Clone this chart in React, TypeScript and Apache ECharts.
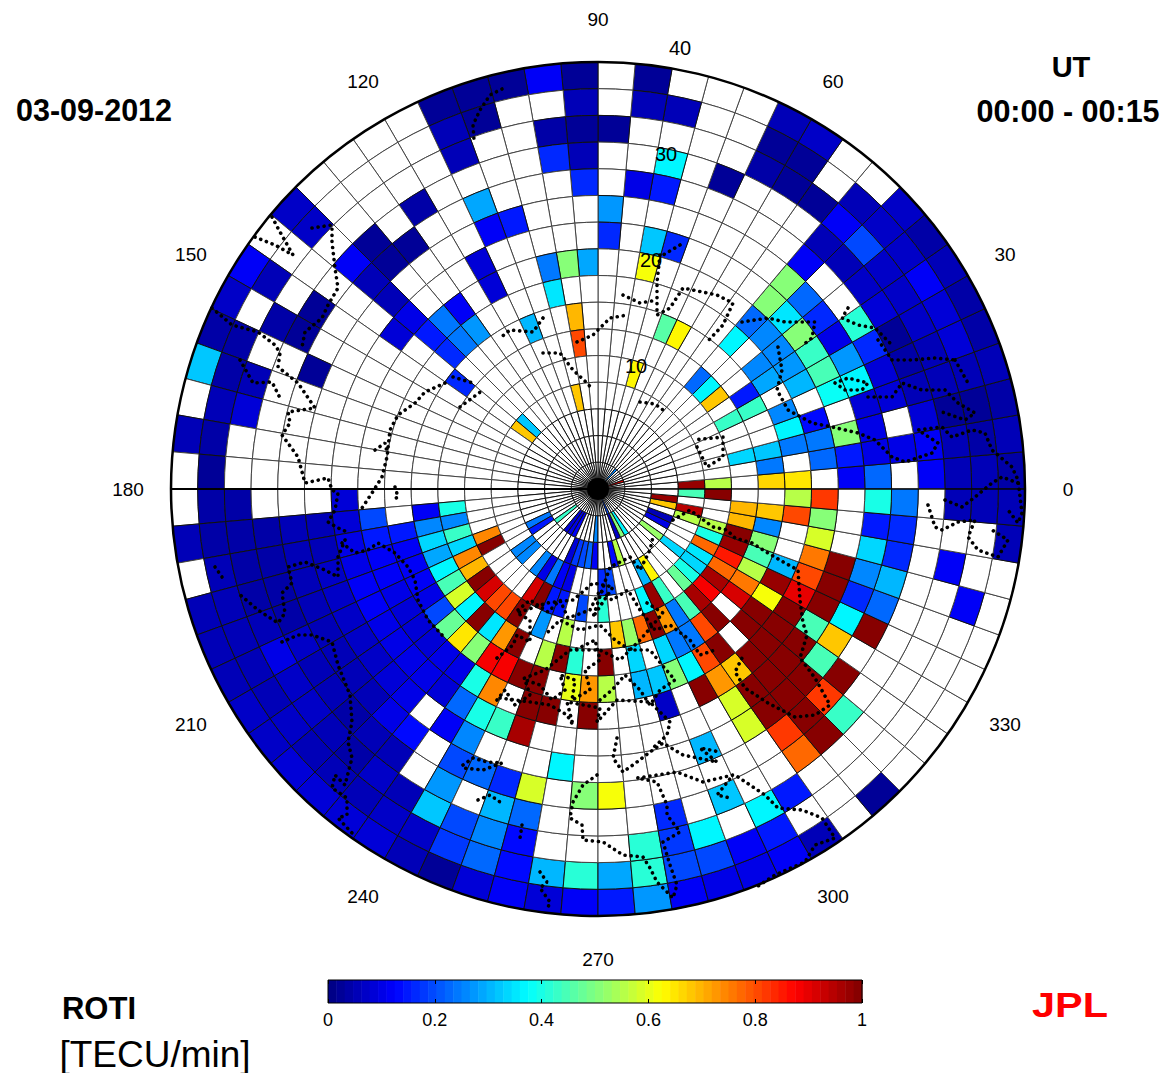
import React, { useEffect, useRef } from "react";
import * as echarts from "echarts";

// ROTI per cell: [longitude sector (5 deg each), value]; ring01 is the outermost (colatitude 37.5-40), ring16 the innermost.
const ring01 = [[0,.04],[1,.05],[2,.04],[3,.05],[4,.04],[5,.04],[6,.06],[7,.04],[8,.07],[11,.07],[12,.06],[16,.03],[18,.03],[19,.11],[20,.02],[21,.02],[22,.03],[27,.07],[29,.11],[30,.07],[31,.04],[32,.32],[34,.05],[37,.05],[39,.05],[40,.05],[41,.05],[42,.07],[43,.07],[44,.08],[45,.09],[46,.09],[47,.08],[48,.05],[49,.03],[50,.08],[51,.11],[52,.09],[53,.11],[54,.15],[55,.27],[56,.12],[57,.1],[58,.1],[59,.11],[60,.06],[62,.03],[70,.06],[71,.05]];
const ring02 = [[0,.05],[1,.04],[2,.03],[3,.05],[4,.08],[5,.08],[6,.11],[7,.07],[8,.07],[9,.05],[11,.02],[12,.03],[15,.05],[16,.05],[18,.06],[21,.03],[22,.06],[27,.07],[29,.06],[31,.04],[32,.04],[33,.05],[34,.04],[35,.03],[36,.04],[37,.04],[38,.05],[39,.05],[40,.05],[41,.06],[42,.06],[43,.07],[44,.06],[45,.05],[46,.06],[47,.07],[48,.07],[49,.18],[50,.22],[51,.14],[52,.3],[53,.41],[54,.29],[55,.41],[56,.2],[57,.2],[58,.11],[59,.15],[68,.12],[71,.05]];
const ring03 = [[0,.05],[1,.05],[2,.03],[3,.05],[4,.05],[5,.07],[6,.07],[7,.07],[8,.19],[9,.12],[10,.02],[11,.02],[12,.04],[17,.03],[18,.03],[19,.04],[22,.06],[30,.04],[32,.06],[33,.08],[36,.04],[37,.04],[38,.04],[39,.04],[40,.05],[41,.1],[42,.07],[43,.07],[44,.05],[45,.04],[46,.07],[47,.05],[48,.32],[49,.2],[50,.26],[51,.14],[55,.41],[56,.18],[57,.37],[59,.37],[60,.15],[69,.12],[71,.05]];
const ring04 = [[0,.11],[1,.12],[2,.08],[3,.06],[4,.04],[5,.02],[6,.08],[7,.07],[8,.06],[9,.06],[13,.02],[15,.37],[18,.06],[19,.17],[24,.04],[26,.02],[27,.11],[29,.03],[30,.03],[37,.04],[38,.04],[39,.04],[40,.04],[41,.07],[42,.05],[43,.05],[44,.04],[45,.05],[46,.06],[48,.27],[50,.3],[51,.22],[56,.16],[58,.32],[61,.78],[62,1],[63,.43]];
const ring05 = [[1,.1],[3,.08],[4,.08],[5,.17],[6,.41],[9,.12],[15,.15],[16,.1],[18,.17],[22,.29],[25,.03],[26,.03],[27,.05],[31,.03],[37,.06],[38,.05],[39,.05],[40,.05],[41,.05],[42,.05],[43,.05],[44,.06],[45,.1],[46,.14],[48,.2],[49,.22],[50,.17],[51,.58],[53,.5],[54,.61],[61,.82],[62,1],[63,.82],[64,1],[66,1],[67,.23],[68,.3],[69,.17],[70,.17],[71,.24]];
const ring06 = [[0,.22],[1,.1],[2,.1],[3,.08],[4,.36],[5,.27],[6,.1],[7,.17],[8,.23],[9,.5],[17,.28],[21,.15],[22,.12],[27,.06],[37,.06],[38,.06],[39,.07],[40,.07],[41,.07],[42,.07],[43,.07],[44,.08],[45,.1],[47,.12],[48,.25],[52,.37],[58,.3],[60,.58],[61,1],[62,1],[63,1],[64,.45],[65,.68],[66,.37],[67,.17],[68,.25],[69,.33],[70,.15],[71,.4]];
const ring07 = [[0,.11],[1,.15],[2,.5],[4,.38],[5,.45],[6,.43],[7,.5],[8,.35],[9,.5],[14,.17],[15,.32],[17,.16],[23,.09],[27,.1],[28,.09],[36,.08],[37,.09],[38,.1],[39,.1],[40,.12],[41,.12],[42,.1],[43,.1],[44,.1],[45,.1],[46,.09],[47,.22],[48,.4],[49,.43],[50,.96],[60,.58],[61,1],[62,1],[63,1],[64,1],[65,.45],[66,1],[67,1],[68,1]];
const ring08 = [[1,.23],[2,.24],[3,.14],[5,.31],[6,.28],[7,.26],[8,.25],[9,.22],[15,.62],[18,.29],[19,.5],[20,.24],[23,.08],[25,.11],[26,.24],[27,.15],[37,.2],[38,.15],[39,.11],[40,.11],[41,.1],[42,.09],[43,.09],[44,.08],[45,.1],[46,.1],[47,.4],[48,.74],[50,1],[51,1],[53,1],[57,.07],[59,1],[60,.72],[61,.68],[62,1],[63,1],[64,1],[65,1],[66,.9],[67,.8],[68,.75],[69,.58],[70,.5],[71,.82]];
const ring09 = [[0,.65],[2,.24],[3,.36],[4,.25],[6,.29],[7,.25],[9,.36],[20,.35],[25,.27],[26,.24],[27,.16],[38,.15],[39,.11],[40,.11],[41,.12],[42,.1],[43,.2],[44,.47],[45,.65],[46,.5],[47,.88],[48,.88],[49,1],[50,1],[52,.6],[53,.72],[54,.55],[56,.31],[57,.32],[58,.5],[59,.37],[60,.8],[61,1],[63,1],[64,1],[65,.61],[66,.97],[67,.3],[70,.8],[71,.55]];
const ring10 = [[0,.67],[1,.24],[2,.32],[5,.43],[6,.15],[12,.63],[13,.46],[19,.7],[22,.31],[28,.16],[37,.11],[38,.25],[39,.33],[40,.29],[41,.37],[42,.45],[43,.58],[44,.36],[45,1],[46,.35],[47,.72],[48,1],[50,.55],[51,1],[52,.42],[54,1],[56,.33],[58,.33],[59,.24],[60,.24],[61,.8],[62,1],[64,.92],[65,.75],[66,.55],[67,.44],[68,.5],[69,.25],[70,.68]];
const ring11 = [[2,.33],[5,.43],[7,.68],[8,.36],[9,.23],[19,.8],[37,.4],[38,.25],[39,.43],[40,.33],[41,.74],[42,.7],[43,1],[44,.92],[45,.8],[46,.8],[47,1],[49,.27],[51,.55],[55,.68],[56,.52],[57,.78],[58,1],[59,.73],[60,.24],[61,.45],[62,.96],[63,.88],[64,.96],[65,.77],[66,.85],[67,.98],[68,1],[69,.7],[70,.7]];
const ring12 = [[0,.55],[14,.63],[40,.74],[41,1],[47,.92],[48,1],[49,.15],[50,.15],[52,.2],[54,.41],[58,.36],[59,.97],[60,.43],[62,.47],[63,.4],[64,.34],[65,.35],[66,.78],[67,.4],[68,.56],[71,1]];
const ring13 = [[0,.97],[20,.68],[27,.32],[28,.68],[43,.25],[44,.25],[46,.25],[47,.1],[48,.24],[49,.12],[50,.1],[54,.17],[55,.2],[59,.31],[60,.63],[64,.33],[68,.55],[69,.95],[71,.45]];
const ring14 = [[41,.24],[42,.15],[49,.09],[50,.18],[51,.2],[52,.22],[53,.11],[56,.14],[57,.55],[64,.52],[66,.1],[67,.06],[69,.68],[70,.98]];
const ring15 = [[43,.43],[46,.09],[47,.1],[48,.11],[53,.25],[58,.07],[59,.5],[60,.36]];
const ring16 = [[3,.9],[9,.25],[58,.2]];
const rings = [ring01,ring02,ring03,ring04,ring05,ring06,ring07,ring08,ring09,ring10,ring11,ring12,ring13,ring14,ring15,ring16];

const meridianLabels = [0,30,60,90,120,150,180,210,240,270,300,330];
const colatLabels = ["10","20","30","40"];
const colorbarTicks = [0,0.2,0.4,0.6,0.8,1];

// Coastline traces (x east-ward, y south-ward).
const coastA = [[502,89],[490,95],[480,110],[473,125],[474,140]];
const coastB = [[272,217],[280,232],[293,255]];
const coastC = [[255,237],[275,245],[293,255]];
const coastD = [[312,228],[332,225],[332,242],[335,268],[338,288],[328,305],[322,318],[305,332],[302,347]];
const coastE = [[212,308],[232,325],[258,332],[275,345],[280,353],[278,367],[298,383],[315,408],[288,412],[290,423],[282,435],[298,457],[305,483],[328,478],[332,490],[338,493],[335,510],[328,522],[338,528],[347,532]];
const coastF = [[240,360],[253,383],[272,382],[280,398]];
const coastG = [[445,383],[425,392],[415,403],[398,415],[390,430],[387,457],[382,477],[372,493],[362,508]];
const coastH = [[375,450],[385,443],[387,452]];
const coastI = [[395,487],[398,497],[392,500]];
const coastJ = [[345,540],[338,557],[338,577],[325,570],[305,562],[288,567],[292,583],[282,593],[285,613],[278,623],[258,610],[238,593]];
const coastK = [[215,567],[222,577]];
const coastL = [[342,543],[355,553],[368,550],[378,543],[395,553],[408,567],[415,580],[418,600],[428,620],[442,635]];
const coastM = [[282,642],[298,635],[312,635],[332,642],[338,665],[350,695],[352,722],[348,742],[352,758],[345,785],[335,775],[332,788],[347,798],[347,815],[338,818],[352,833]];
const coastN = [[540,872],[547,882],[540,888],[550,902],[547,910]];
const coastO = [[478,800],[490,795],[500,802]];
const coastP = [[463,765],[473,758],[487,762],[502,763],[483,770],[463,768]];
const coastQ = [[522,825],[520,838]];
const coastR = [[597,775],[583,785],[573,802],[570,818],[582,825],[583,840],[603,842],[623,855],[643,857],[650,868],[657,882],[673,898],[677,885],[670,865],[663,842],[680,832],[667,815],[667,805],[657,782],[637,778],[677,772],[703,782],[733,775],[717,795],[730,798]];
const coastS = [[617,738],[613,758],[623,772],[637,762],[650,752],[663,743],[683,755],[717,762],[700,748],[720,752]];
const coastT = [[500,698],[530,702],[550,705],[567,715],[573,725],[567,702],[600,708],[597,722],[617,700],[650,702],[670,722],[667,735],[653,748]];
const coastU = [[497,658],[513,645],[517,635],[530,642],[530,620],[517,613],[547,603],[573,600],[593,583],[613,587],[593,617],[610,567],[630,557],[640,570],[650,550],[653,537]];
const coastV = [[647,603],[663,613],[640,640],[620,660],[600,650],[570,650],[545,670],[520,680]];
const coastW = [[673,520],[690,510],[713,527],[727,530],[735,538],[752,543],[768,553],[785,563],[798,570],[800,600],[803,623],[807,635],[800,658],[815,678],[830,705],[815,715],[795,717],[768,703],[745,688],[735,672],[742,658]];
const coastX = [[738,777],[765,795],[778,808],[802,810],[822,818],[835,838],[815,845],[805,862],[775,875],[755,888]];
const coastY = [[778,347],[782,370],[777,390],[788,410],[812,423],[832,427],[858,433],[875,440],[892,457],[905,462],[932,453],[938,443],[918,430],[942,427],[952,437],[972,430],[985,433],[992,450],[1012,467],[1018,480],[1022,513],[1018,523],[1008,510]];
const coastZ = [[835,383],[845,390],[862,390],[868,383],[848,378],[835,383]];
const coastAA = [[868,397],[892,397],[902,383],[922,390],[945,390],[958,403],[975,413],[965,420],[942,412]];
const coastAB = [[955,360],[968,383]];
const coastAC = [[878,340],[892,360],[912,360],[935,358],[955,360]];
const coastAD = [[945,500],[962,507],[975,497],[992,483],[1002,477],[1018,483]];
const coastAE = [[928,505],[935,527],[942,530],[958,522],[975,520],[968,537],[978,550],[998,557],[1008,540],[992,530]];
const coastAF = [[848,308],[842,318],[858,325],[875,328],[892,345]];
const coastAG = [[742,322],[768,318],[785,322],[815,322],[812,338],[803,345]];
const coastAH = [[660,255],[657,282],[657,315],[670,308],[683,288],[717,295],[733,303],[723,325],[707,342]];
const coastAI = [[623,295],[640,303],[657,300]];
const coastAJ = [[680,245],[663,255]];
const coastAK = [[543,318],[533,332],[510,330],[500,338]];
const coastAL = [[577,342],[593,335],[610,318],[627,315]];
const coastAM = [[543,353],[560,353],[573,370],[587,383],[593,390]];
const coastAN = [[640,402],[655,404],[667,413]];
const coastAO = [[697,447],[707,467],[723,457],[723,437],[693,440]];
const coastAP = [[460,407],[483,390]];
const coastAQ = [[453,377],[473,383]];
const coastAR = [[497,700],[505,690],[515,705],[530,695],[525,680],[540,685],[552,700],[565,690],[560,675],[575,680],[572,700],[590,690],[585,670],[600,660],[595,640],[575,650]];
const coastAS = [[600,700],[612,690],[625,675],[640,690],[650,705],[660,690],[675,680],[662,665],[650,650],[630,650],[615,640],[600,625],[580,630],[560,620],[545,635]];
const coastAT = [[518,610],[530,600],[548,612],[560,600],[568,618],[590,610],[600,590],[612,600],[628,590],[640,610],[655,630],[670,625],[690,640],[700,655],[715,650]];
const coasts = [coastA,coastB,coastC,coastD,coastE,coastF,coastG,coastH,coastI,coastJ,coastK,coastL,coastM,coastN,coastO,coastP,coastQ,coastR,coastS,coastT,coastU,coastV,coastW,coastX,coastY,coastZ,coastAA,coastAB,coastAC,coastAD,coastAE,coastAF,coastAG,coastAH,coastAI,coastAJ,coastAK,coastAL,coastAM,coastAN,coastAO,coastAP,coastAQ,coastAR,coastAS,coastAT];

const clamp = (v: number) => Math.max(0, Math.min(1, v));
function jet(value: number) {
  const t = (Math.floor(Math.min(value, 0.9999) * 64) + 0.5) / 64;
  const c = (d: number) => Math.round(clamp(1.5 - Math.abs(4 * t - d)) * 255);
  return `rgb(${c(3)},${c(2)},${c(1)})`;
}

const CX = 598, CY = 489, R = 427;
const FONT = "Liberation Sans, Arial, sans-serif";

export default function App() {
  const ref = useRef<HTMLDivElement>(null);
  useEffect(() => {
    const chart = echarts.init(ref.current!, null, { renderer: "svg" });
    const cells: number[][] = [];
    rings.forEach((ring, j) => {
      const map = new Map(ring.map((p) => [p[0], p[1]]));
      for (let s = 0; s < 72; s++) {
        const inner = 40 - (j + 1) * 2.5;
        cells.push([inner, s * 5, map.has(s) ? (map.get(s) as number) : -1]);
      }
    });
    const levels = Array.from({ length: 64 }, (_, i) => [i / 64, (i + 1) / 64]);
    const renderCell = (params: any, api: any) => {
      const { cx, cy } = params.coordSys;
      const inner = api.value(0), a0 = api.value(1), v = api.value(2);
      const p0 = api.coord([inner, a0]);
      const p1 = api.coord([inner + 2.5, a0]);
      const r0 = Math.hypot(p0[0] - cx, p0[1] - cy);
      const r1 = Math.hypot(p1[0] - cx, p1[1] - cy);
      return {
        type: "sector",
        shape: { cx, cy, r0, r: r1, startAngle: -((a0 + 5) * Math.PI) / 180, endAngle: -(a0 * Math.PI) / 180, clockwise: true },
        style: { fill: v < 0 ? "#fff" : jet(v), stroke: v < 0 ? (inner < 6 ? "#111" : "#444") : "#111", lineWidth: 1 },
      };
    };
    const renderLevel = (_: any, api: any) => {
      const a = api.coord([api.value(0), 0]);
      const b = api.coord([api.value(1), 1]);
      return {
        type: "rect",
        shape: { x: a[0], y: b[1], width: b[0] - a[0] + 0.5, height: a[1] - b[1] },
        style: { fill: jet((api.value(0) + api.value(1)) / 2) },
      };
    };
    const text = (t: string, x: number, y: number, size: number, extra: any = {}) => ({
      type: "text", x, y, z: 20,
      style: { text: t, fill: extra.fill || "#000", font: `${extra.bold ? "bold " : ""}${size}px ${FONT}`, textAlign: "center", textVerticalAlign: "middle" },
      ...(extra.scaleX ? { scaleX: extra.scaleX } : {}),
    });
    chart.setOption({
      animation: false,
      polar: { center: [CX, CY], radius: R },
      radiusAxis: { type: "value", min: 0, max: 40, axisLine: { show: false }, axisTick: { show: false }, axisLabel: { show: false }, splitLine: { show: false } },
      angleAxis: { type: "value", min: 0, max: 360, startAngle: 0, clockwise: false, z: 5, axisLine: { show: true, lineStyle: { color: "#000", width: 2.5 } }, axisTick: { show: false }, axisLabel: { show: false }, splitLine: { show: false } },
      grid: [
        { left: CX - R, top: CY - R, width: 2 * R, height: 2 * R, show: false },
        { left: 328, top: 980, width: 534, height: 23, show: true, borderColor: "#000", borderWidth: 1, z: 5 },
      ],
      xAxis: [
        { type: "value", gridIndex: 0, min: CX - R, max: CX + R, show: false },
        { type: "value", gridIndex: 1, min: 0, max: 1, interval: 0.2, axisLine: { show: false }, axisTick: { show: true, inside: true, length: 4, lineStyle: { color: "#000" } }, axisLabel: { margin: 8, fontSize: 18, color: "#000", fontFamily: FONT, formatter: (v: number) => (colorbarTicks.includes(Math.round(v * 10) / 10) ? String(Math.round(v * 10) / 10) : "") }, splitLine: { show: false }, z: 6 },
        { type: "value", gridIndex: 1, position: "top", min: 0, max: 1, interval: 0.2, axisLine: { show: false }, axisTick: { show: true, inside: true, length: 4, lineStyle: { color: "#000" } }, axisLabel: { show: false }, splitLine: { show: false }, z: 6 },
      ],
      yAxis: [
        { type: "value", gridIndex: 0, min: CY - R, max: CY + R, inverse: true, show: false },
        { type: "value", gridIndex: 1, min: 0, max: 1, show: false },
      ],
      series: [
        { type: "custom", coordinateSystem: "polar", renderItem: renderCell, data: cells, silent: true, z: 1, clip: false },
        { type: "line", coordinateSystem: "polar", data: [[40, 180], [0, 180]], symbol: "none", lineStyle: { color: "#000", width: 2 }, silent: true, z: 2 },
        { type: "line", coordinateSystem: "polar", data: [[40, 0], [0, 0]], symbol: "none", lineStyle: { color: "#000", width: 1.2 }, silent: true, z: 2 },
        ...coasts.map((c) => ({ type: "line", xAxisIndex: 0, yAxisIndex: 0, data: c, symbol: "none", smooth: false, silent: true, z: 3, clip: false, lineStyle: { color: "#000", width: 3.6, cap: "round", type: [0.1, 6] } })),
        { type: "custom", coordinateSystem: "cartesian2d", xAxisIndex: 1, yAxisIndex: 1, renderItem: renderLevel, data: levels, silent: true, z: 1 },
      ],
      graphic: [
        { type: "circle", z: 10, shape: { cx: CX, cy: CY, r: 11 }, style: { fill: "#000" } },
        ...meridianLabels.map((d) => text(String(d), CX + 470 * Math.cos((d * Math.PI) / 180), CY - 470 * Math.sin((d * Math.PI) / 180), 19)),
        text(colatLabels[0], 636, 366, 20),
        text(colatLabels[1], 651, 260, 20),
        text(colatLabels[2], 666, 154, 20),
        text(colatLabels[3], 680, 48, 20),
        text("03-09-2012", 94, 110, 30.5, { bold: true }),
        text("UT", 1071, 67, 29, { bold: true }),
        text("00:00 - 00:15", 1068, 111, 30.5, { bold: true }),
        text("ROTI", 99, 1008, 31, { bold: true }),
        text("[TECU/min]", 155, 1054, 37),
        text("JPL", 1070, 1004, 36, { bold: true, fill: "#f00", scaleX: 1.15 }),
      ],
    });
    return () => chart.dispose();
  }, []);
  return <div ref={ref} style={{ position: "fixed", left: 0, top: 0, width: 1173, height: 1073, background: "#fff" }} />;
}
